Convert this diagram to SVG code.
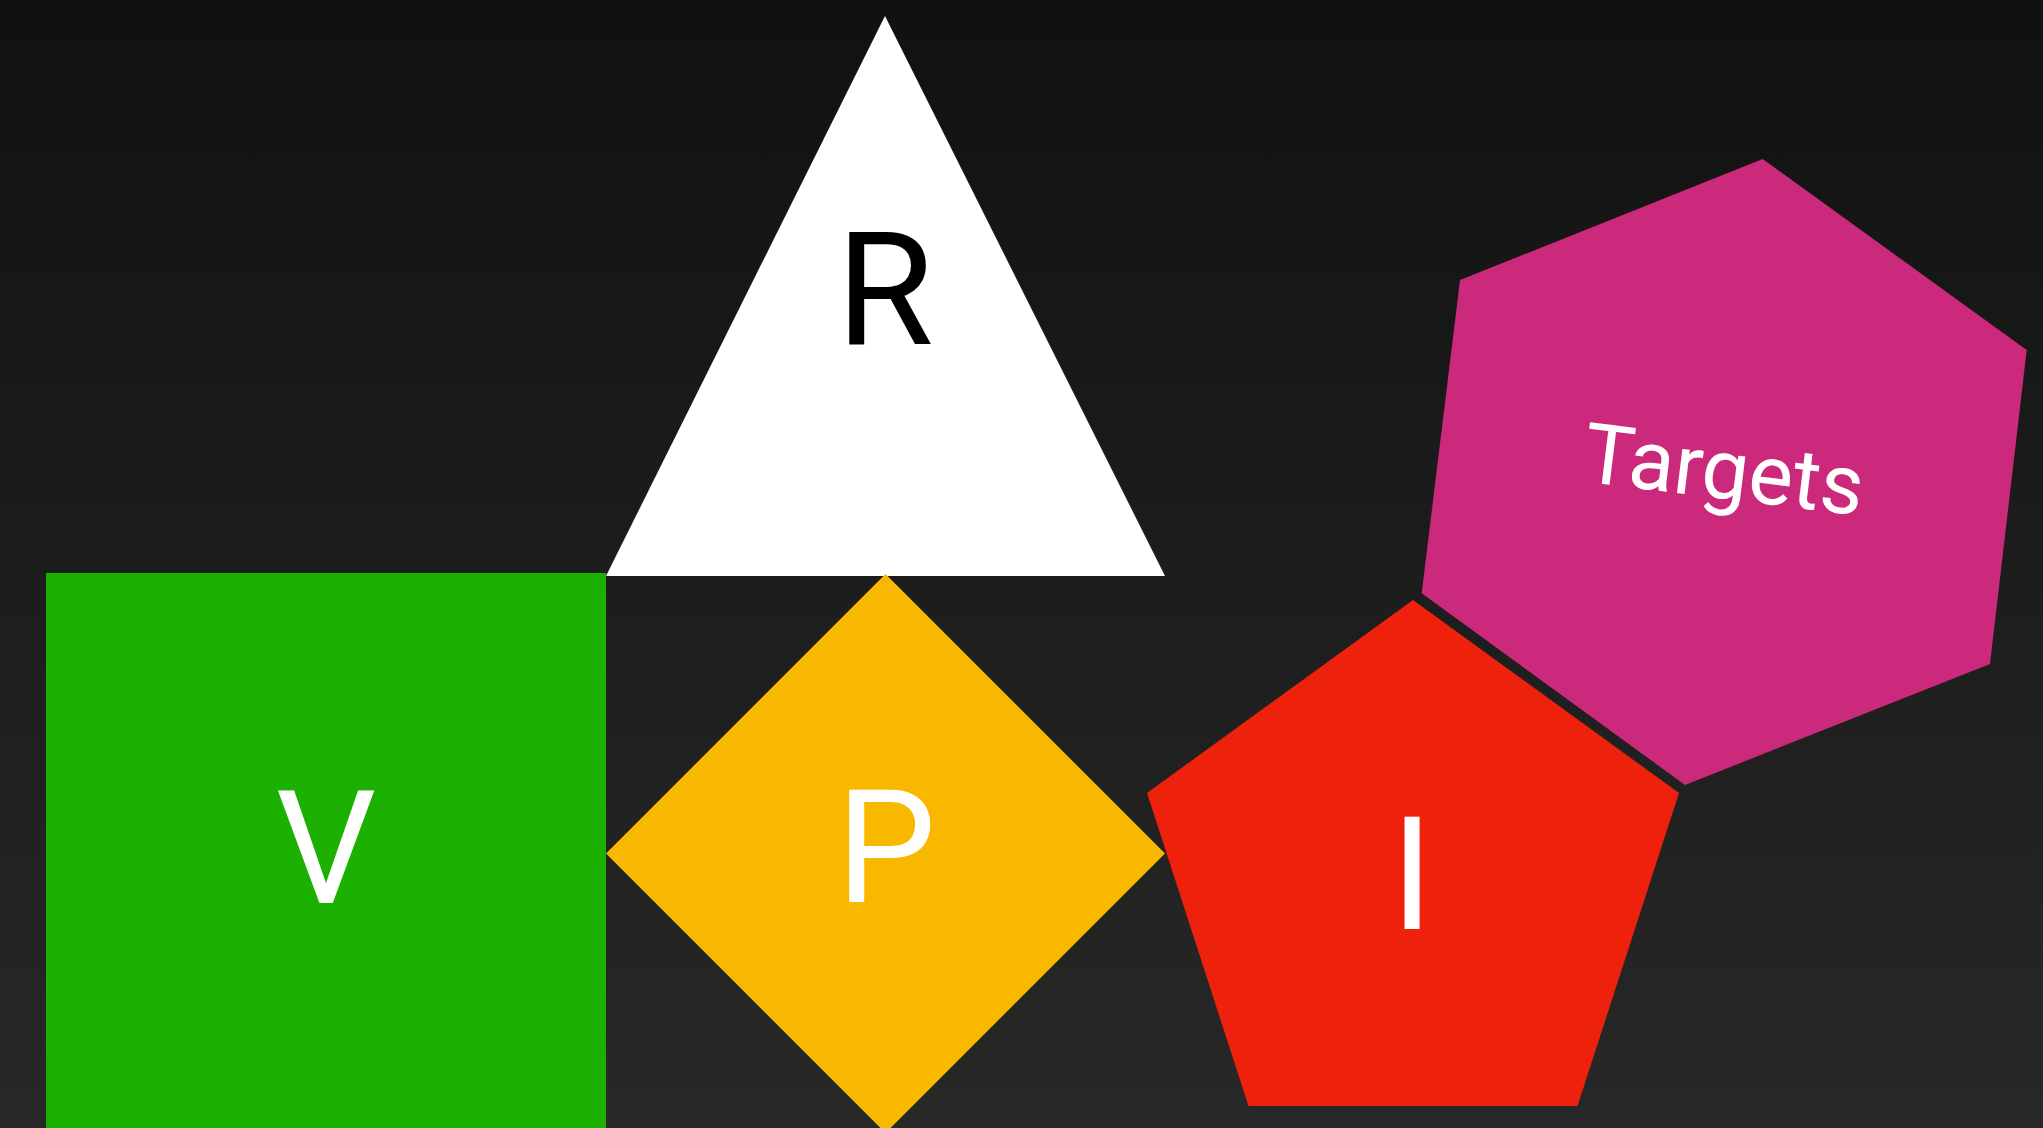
<svg xmlns="http://www.w3.org/2000/svg" width="2043" height="1128" viewBox="0 0 2043 1128">
<defs>
<linearGradient id="bg" x1="0" y1="0" x2="0" y2="1">
<stop offset="0" stop-color="#111111"/>
<stop offset="1" stop-color="#282828"/>
</linearGradient>
<style>
.lbl{font-family:Roboto,"Open Sans","Liberation Sans",sans-serif;font-size:158px;text-anchor:middle}
.w{fill:#ffffff}
.k{fill:#000000}
</style>
</defs>
<rect width="2043" height="1128" fill="url(#bg)"/>
<g id="connectors"></g>
<g id="node-R">
<polygon points="885,16 606,576 1165,576" fill="#ffffff"/>
<text class="lbl k" x="885" y="345">R</text>
</g>
<g id="node-V">
<rect x="46" y="573" width="560" height="560" fill="#1CB100"/>
<text class="lbl w" x="326" y="903">V</text>
</g>
<g id="node-P">
<polygon points="885.5,574 1165,853.5 885.5,1133 606,853.5" fill="#F8B800"/>
<text class="lbl w" x="886" y="902">P</text>
</g>
<g id="node-I">
<polygon points="1413,600 1679,793 1577.5,1106 1248.5,1106 1147,793" fill="#EE220C"/>
<text class="lbl w" x="1412" y="929">I</text>
</g>
<g id="node-Targets">
<polygon points="1762.7,159 2026.7,350 1990,664 1685,785 1421.7,593.3 1460,280" fill="#CB297B"/>
<text class="w" x="1724" y="470" transform="rotate(7 1724 470)" font-family="Roboto,'Open Sans','Liberation Sans',sans-serif" font-size="84" text-anchor="middle" dominant-baseline="central">Targets</text>
</g>
</svg>
